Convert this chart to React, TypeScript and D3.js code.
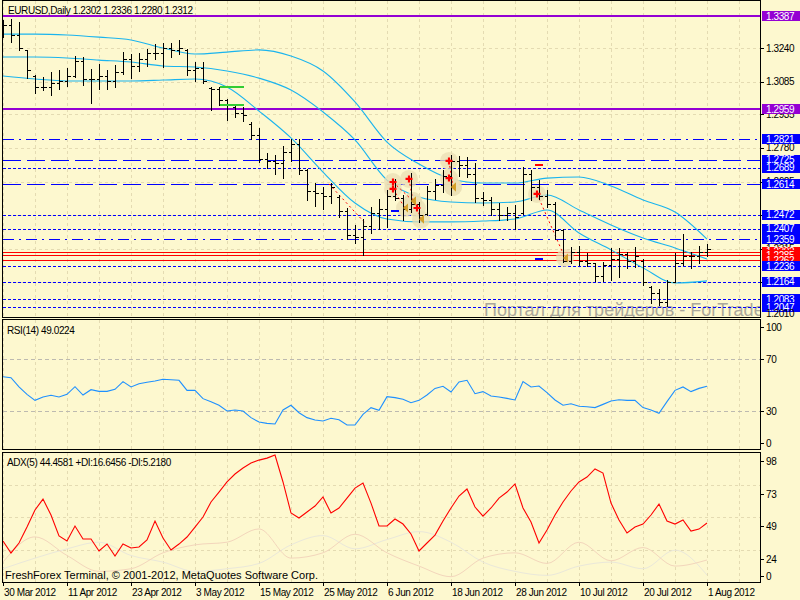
import React from "react";
import * as d3 from "d3";

// ---------- data ----------
const highs = [
  1.3370, 1.3374, 1.3361, 1.3232, 1.3116, 1.3107, 1.3130, 1.3139, 1.3149, 1.3204,
  1.3199, 1.3144, 1.3167, 1.3139, 1.3162, 1.3222, 1.3213, 1.3218, 1.3236, 1.3259,
  1.3264, 1.3264, 1.3278, 1.3236, 1.3176, 1.3176, 1.3061, 1.3061, 1.3006, 1.2978,
  1.2969, 1.2900, 1.2872, 1.2757, 1.2747, 1.2789, 1.2821, 1.2821, 1.2683, 1.2618,
  1.2600, 1.2618, 1.2563, 1.2503, 1.2425, 1.2452, 1.2508, 1.2545, 1.2586, 1.2637,
  1.2563, 1.2665, 1.2531, 1.2605, 1.2637, 1.2678, 1.2747, 1.2743, 1.2738, 1.2711,
  1.2577, 1.2554, 1.2526, 1.2508, 1.2517, 1.2692, 1.2678, 1.2632, 1.2586, 1.2531,
  1.2406, 1.2323, 1.2328, 1.2296, 1.2250, 1.2254, 1.2319, 1.2319, 1.2300, 1.2323,
  1.2268, 1.2144, 1.2130, 1.2171, 1.2296, 1.2383, 1.2300, 1.2328, 1.2336,
];
const lows = [
  1.3291, 1.3268, 1.3232, 1.3102, 1.3033, 1.3047, 1.3024, 1.3052, 1.3066, 1.3107,
  1.3070, 1.2987, 1.3052, 1.3052, 1.3061, 1.3121, 1.3102, 1.3135, 1.3158, 1.3190,
  1.3153, 1.3199, 1.3213, 1.3116, 1.3089, 1.3079, 1.2955, 1.2978, 1.2909, 1.2923,
  1.2904, 1.2821, 1.2715, 1.2688, 1.2660, 1.2641, 1.2720, 1.2660, 1.2540, 1.2512,
  1.2499, 1.2526, 1.2462, 1.2360, 1.2342, 1.2286, 1.2388, 1.2406, 1.2415, 1.2540,
  1.2448, 1.2485, 1.2439, 1.2471, 1.2545, 1.2577, 1.2563, 1.2651, 1.2646, 1.2531,
  1.2517, 1.2471, 1.2448, 1.2448, 1.2406, 1.2475, 1.2540, 1.2545, 1.2508, 1.2360,
  1.2254, 1.2250, 1.2240, 1.2236, 1.2167, 1.2167, 1.2171, 1.2185, 1.2227, 1.2231,
  1.2148, 1.2065, 1.2056, 1.2051, 1.2162, 1.2240, 1.2227, 1.2250, 1.2280,
];
const opens = [
  1.3320, 1.3345, 1.3300, 1.3232, 1.3110, 1.3060, 1.3060, 1.3080, 1.3090, 1.3110,
  1.3180, 1.3100, 1.3100, 1.3110, 1.3090, 1.3130, 1.3190, 1.3160, 1.3190, 1.3220,
  1.3220, 1.3240, 1.3230, 1.3230, 1.3140, 1.3150, 1.3055, 1.3050, 1.3000, 1.2970,
  1.2940, 1.2890, 1.2840, 1.2730, 1.2720, 1.2710, 1.2760, 1.2800, 1.2680, 1.2580,
  1.2570, 1.2560, 1.2555, 1.2490, 1.2380, 1.2370, 1.2420, 1.2480, 1.2500, 1.2560,
  1.2550, 1.2500, 1.2520, 1.2475, 1.2580, 1.2610, 1.2650, 1.2720, 1.2700, 1.2660,
  1.2550, 1.2540, 1.2500, 1.2470, 1.2480, 1.2480, 1.2660, 1.2600, 1.2560, 1.2520,
  1.2400, 1.2260, 1.2300, 1.2260, 1.2250, 1.2190, 1.2240, 1.2270, 1.2290, 1.2260,
  1.2260, 1.2140, 1.2110, 1.2070, 1.2160, 1.2250, 1.2280, 1.2280, 1.2302,
];
const closes = [
  1.3345, 1.3300, 1.3240, 1.3140, 1.3060, 1.3060, 1.3080, 1.3090, 1.3110, 1.3180,
  1.3100, 1.3100, 1.3110, 1.3090, 1.3130, 1.3190, 1.3160, 1.3190, 1.3220, 1.3220,
  1.3240, 1.3230, 1.3240, 1.3140, 1.3150, 1.3090, 1.3050, 1.3000, 1.2980, 1.2940,
  1.2930, 1.2840, 1.2730, 1.2720, 1.2710, 1.2760, 1.2800, 1.2680, 1.2580, 1.2570,
  1.2560, 1.2600, 1.2490, 1.2380, 1.2370, 1.2420, 1.2480, 1.2500, 1.2560, 1.2550,
  1.2500, 1.2520, 1.2470, 1.2580, 1.2610, 1.2650, 1.2720, 1.2700, 1.2660, 1.2550,
  1.2540, 1.2500, 1.2470, 1.2480, 1.2460, 1.2660, 1.2600, 1.2560, 1.2520, 1.2400,
  1.2260, 1.2300, 1.2260, 1.2250, 1.2190, 1.2240, 1.2270, 1.2290, 1.2260, 1.2280,
  1.2160, 1.2110, 1.2070, 1.2160, 1.2250, 1.2280, 1.2280, 1.2300, 1.2312,
];

// channel lines sampled every 4 bars
const bandIdx = [0, 4, 8, 12, 16, 20, 24, 28, 32, 36, 40, 44, 48, 52, 56, 60, 64, 68, 72, 76, 80, 84, 88];
const bandUpper = [1.3305, 1.3305, 1.3301, 1.3291, 1.3278, 1.3241, 1.3213, 1.3222, 1.3232, 1.3204, 1.3135, 1.2992, 1.2807, 1.2706, 1.2637, 1.2618, 1.2618, 1.2641, 1.2646, 1.2605, 1.2540, 1.2485, 1.2360];
const bandMid = [1.3199, 1.3199, 1.3195, 1.3185, 1.3176, 1.3158, 1.3153, 1.3135, 1.3102, 1.3047, 1.2946, 1.2817, 1.2632, 1.2554, 1.2531, 1.2526, 1.2531, 1.2563, 1.2494, 1.2425, 1.2365, 1.2319, 1.2268];
const bandLower = [1.3112, 1.3098, 1.3089, 1.3089, 1.3089, 1.3093, 1.3098, 1.3061, 1.2950, 1.2826, 1.2669, 1.2526, 1.2452, 1.2439, 1.2439, 1.2443, 1.2452, 1.2494, 1.2388, 1.2310, 1.2227, 1.2157, 1.2167];

const rsi = [
  56.4, 55.6, 48.5, 42.8, 38.2, 40.8, 42.1, 40.8, 42.8, 48.7,
  42.3, 46.4, 45.1, 45.1, 46.7, 52.6, 48.5, 51.0, 52.1, 53.1,
  54.4, 54.0, 53.6, 45.9, 45.9, 39.5, 37.2, 34.4, 30.0, 30.8,
  30.0, 24.9, 21.5, 20.5, 20.0, 30.8, 34.4, 28.7, 24.9, 23.1,
  22.3, 24.4, 23.3, 19.2, 19.2, 27.4, 32.6, 30.5, 41.0, 40.3,
  39.0, 36.4, 38.2, 42.3, 47.4, 49.0, 44.6, 52.3, 53.6, 43.3,
  44.9, 41.5, 40.8, 39.7, 38.5, 52.6, 48.5, 49.2, 44.1, 38.5,
  34.4, 35.6, 33.6, 33.3, 32.6, 35.1, 37.7, 38.7, 38.2, 38.2,
  32.6, 30.8, 28.2, 37.2, 45.9, 48.5, 44.9, 47.4, 49.0,
];
const adx = [
  30.9, 21.9, 29.4, 41.4, 54.3, 62.5, 50.5, 34.7, 30.9, 42.2,
  32.4, 32.4, 23.4, 28.6, 19.6, 28.6, 25.6, 26.4, 31.7, 46.0,
  33.2, 24.1, 28.6, 33.9, 41.4, 49.0, 60.3, 67.8, 75.4, 81.4,
  85.9, 89.7, 91.9, 93.4, 95.7, 75.4, 52.0, 48.2, 52.8, 57.3,
  64.1, 52.0, 55.8, 63.3, 70.8, 74.6, 59.5, 42.2, 42.2, 47.5,
  43.7, 36.2, 23.4, 29.4, 35.4, 46.0, 55.8, 64.8, 70.1, 56.5,
  49.7, 55.8, 63.3, 67.8, 73.9, 55.8, 45.2, 29.4, 39.2, 50.5,
  60.3, 68.6, 75.4, 79.1, 85.2, 82.1, 59.5, 46.7, 36.9, 41.4,
  43.7, 50.5, 58.8, 46.0, 43.7, 46.7, 38.4, 39.9, 44.5,
];
const plusDI = [15, 34, 20, 8, 10, 22, 28, 30, 40, 18, 22, 36, 22, 12, 4, 18, 22, 14, 30, 16, 26, 12, 16.6];
const minusDI = [10, 18, 25, 30, 20, 15, 8, 10, 14, 28, 35, 25, 32, 38, 30, 15, 8, 5, 12, 15, 10, 24, 5.2];

const levelPrices = [1.3387, 1.2959, 1.2821, 1.2725, 1.2689, 1.2614, 1.2472, 1.2407, 1.2359, 1.2302, 1.2285, 1.2262, 1.2236, 1.2164, 1.2083, 1.2047];
const levelKinds = ["purple", "purple", "dashdot", "longdash", "dot", "longdash", "dot", "dot", "dashdot", "red", "red", "red", "dot", "dot", "dot", "dot"];

const priceTicks = [1.3240, 1.3085, 1.2935, 1.2780, 1.2625, 1.2470, 1.2315, 1.2160];
const rsiTicks = [100, 70, 30, 0];
const adxTicks = [98, 73, 49, 24, 0];

const xTickIdx = [0, 8, 16, 24, 32, 40, 48, 56, 64, 72, 80, 88];
const xTickLabels = ["30 Mar 2012", "11 Apr 2012", "23 Apr 2012", "3 May 2012", "15 May 2012", "25 May 2012", "6 Jun 2012", "18 Jun 2012", "28 Jun 2012", "10 Jul 2012", "20 Jul 2012", "1 Aug 2012"];

// trade history (open bar, open price, close bar, close price, show markers)
const tradeOpenIdx = [41, 49, 49, 51, 52, 56, 56, 67];
const tradeOpenPx = [1.2614, 1.2623, 1.2591, 1.2637, 1.2503, 1.2720, 1.2641, 1.2568];
const tradeCloseIdx = [45, 51, 50, 51, 52, 56, 56, 70];
const tradeClosePx = [1.2434, 1.2535, 1.2503, 1.2535, 1.2451, 1.2600, 1.2600, 1.2273];
const tradeMarked = [false, true, true, true, true, true, true, true];

const stopIdx = [49, 67, 67];
const stopPx = [1.2489, 1.2701, 1.2268];
const stopColor = ["#0000FF", "#FF0000", "#0000FF"];

const greenFrom = 27;
const greenTo = 30;
const greenPx = [1.3061, 1.2978];

const FONT = "'Liberation Sans', Arial, sans-serif";
const BG = "#FDF8CF";
const GRID = "#E4DBB2";

export default function App() {
  const xs = d3.scaleLinear().domain([0, 88]).range([3, 707]);
  const yP = d3.scaleLinear().domain([1.2083, 1.3387]).range([299.1, 16.3]);
  const yR = d3.scaleLinear().domain([0, 100]).range([450, 320]);
  const yA = d3.scaleLinear().domain([0, 98]).range([582, 452]);

  const idx = d3.range(highs.length);
  const gridX = d3.range(0, 93, 4).map((i) => Math.round(xs(i)) + 0.5);

  const bandPath = (vals: number[]) =>
    d3.line<number>().x((_, k) => xs(bandIdx[k])).y((v) => yP(v)).curve(d3.curveMonotoneX)(vals) || "";
  const rsiPath = d3.line<number>().x((_, i) => xs(i)).y((v) => yR(v))(rsi) || "";
  const adxPath = d3.line<number>().x((_, i) => xs(i)).y((v) => yA(v))(adx) || "";
  const diPath = (vals: number[]) =>
    d3.line<number>().x((_, k) => xs(bandIdx[k])).y((v) => yA(v)).curve(d3.curveMonotoneX)(vals) || "";

  const dashFor = (k: string) =>
    k === "dashdot" ? "11,5,2,5" : k === "longdash" ? "18,6" : k === "dot" ? "3,2" : undefined;
  const colorFor = (k: string) => (k === "purple" ? "#9400D3" : k === "red" ? "#FF0000" : "#0000FF");
  const crisp = (v: number) => Math.round(v) + 0.5;

  const txt = { fontFamily: FONT, fontSize: 10, letterSpacing: -0.4 } as const;

  return (
    <svg
      width={800}
      height={600}
      style={{ position: "absolute", left: 0, top: 0, display: "block", background: BG }}
    >
      <defs>
        <clipPath id="mainClip">
          <rect x={3} y={1} width={757} height={316} />
        </clipPath>
        <clipPath id="rsiClip">
          <rect x={3} y={320} width={757} height={130} />
        </clipPath>
        <clipPath id="adxClip">
          <rect x={3} y={453} width={757} height={129} />
        </clipPath>
      </defs>
      <rect x={0} y={0} width={800} height={600} fill={BG} />

      {/* ---------- MAIN PANEL ---------- */}
      <g clipPath="url(#mainClip)">
        {gridX.map((gx, k) => (
          <line key={"gx" + k} x1={gx} x2={gx} y1={1} y2={317} stroke={GRID} strokeDasharray="3,3" />
        ))}
        {priceTicks.map((p, k) => (
          <line key={"gy" + k} x1={3} x2={760} y1={crisp(yP(p))} y2={crisp(yP(p))} stroke={GRID} strokeDasharray="3,3" />
        ))}
        <text x={484} y={316} fontFamily={FONT} fontSize={18} fill="#ABA89C">
          Портал для трейдеров - ForTrader.ru
        </text>
        {levelPrices.map((p, k) => (
          <line
            key={"lv" + k}
            x1={3}
            x2={760}
            y1={levelKinds[k] === "purple" ? Math.round(yP(p)) : crisp(yP(p))}
            y2={levelKinds[k] === "purple" ? Math.round(yP(p)) : crisp(yP(p))}
            stroke={colorFor(levelKinds[k])}
            strokeWidth={levelKinds[k] === "purple" ? 2 : 1}
            strokeDasharray={dashFor(levelKinds[k])}
            shapeRendering="crispEdges"
          />
        ))}
        {[bandUpper, bandMid, bandLower].map((b, k) => (
          <path key={"bd" + k} d={bandPath(b)} fill="none" stroke="#1AB4EE" strokeWidth={1.1} />
        ))}

        {/* trade history */}
        {tradeOpenIdx.map((oi, k) =>
          tradeMarked[k] ? (
            <g key={"halo" + k}>
              <circle cx={xs(oi) - 2} cy={yP(tradeOpenPx[k])} r={9} fill="#E9DFB4" opacity={0.75} />
              <circle cx={xs(tradeCloseIdx[k]) + 2} cy={yP(tradeClosePx[k])} r={9} fill="#E9DFB4" opacity={0.75} />
            </g>
          ) : null
        )}
        {tradeOpenIdx.map((oi, k) => (
          <line
            key={"tl" + k}
            x1={xs(oi) - 2}
            y1={yP(tradeOpenPx[k])}
            x2={xs(tradeCloseIdx[k]) + 2}
            y2={yP(tradeClosePx[k])}
            stroke="#FF0000"
            strokeDasharray="2,3"
          />
        ))}
        {stopIdx.map((si, k) => (
          <line
            key={"st" + k}
            x1={xs(si) - 4}
            x2={xs(si) + 4}
            y1={Math.round(yP(stopPx[k]))}
            y2={Math.round(yP(stopPx[k]))}
            stroke={stopColor[k]}
            strokeWidth={2}
          />
        ))}

        {/* bars */}
        <g shapeRendering="crispEdges" stroke="#000">
          {idx.map((i) => {
            const bx = crisp(xs(i));
            return (
              <g key={"b" + i}>
                <line x1={bx} x2={bx} y1={Math.round(yP(highs[i]))} y2={Math.round(yP(lows[i])) + 1} />
                <line x1={bx - 3} x2={bx} y1={crisp(yP(opens[i]))} y2={crisp(yP(opens[i]))} />
                <line x1={bx} x2={bx + 3.5} y1={crisp(yP(closes[i]))} y2={crisp(yP(closes[i]))} />
              </g>
            );
          })}
        </g>

        {tradeOpenIdx.map((oi, k) => {
          if (!tradeMarked[k]) return null;
          const ox = xs(oi) - 2;
          const oy = yP(tradeOpenPx[k]);
          const cx = xs(tradeCloseIdx[k]) + 2;
          const cy = yP(tradeClosePx[k]);
          return (
            <g key={"mk" + k}>
              <path d={`M${ox - 3.5},${oy} H${ox + 3.5} M${ox},${oy - 3.5} V${oy + 3.5}`} stroke="#FF0000" strokeWidth={2.2} />
              <path d={`M${cx + 3},${cy - 4.5} L${cx - 2},${cy} L${cx + 3},${cy + 4.5} Z`} fill="#D4A02A" />
            </g>
          );
        })}

        {greenPx.map((p, k) => (
          <line
            key={"gr" + k}
            x1={xs(greenFrom) + 1}
            x2={xs(greenTo) + 1}
            y1={Math.round(yP(p))}
            y2={Math.round(yP(p))}
            stroke="#33CC33"
            strokeWidth={2}
          />
        ))}
      </g>
      <text x={8} y={14} {...txt} fontSize={10}>
        EURUSD,Daily  1.2302 1.2336 1.2280 1.2312
      </text>

      {/* ---------- RSI PANEL ---------- */}
      <g clipPath="url(#rsiClip)">
        {gridX.map((gx, k) => (
          <line key={"rgx" + k} x1={gx} x2={gx} y1={320} y2={450} stroke={GRID} strokeDasharray="3,3" />
        ))}
        {[70, 30].map((v) => (
          <line key={"rl" + v} x1={3} x2={760} y1={crisp(yR(v))} y2={crisp(yR(v))} stroke="#BDBAB0" strokeDasharray="4,3" />
        ))}
        <path d={rsiPath} fill="none" stroke="#1E90FF" strokeWidth={1.1} />
      </g>
      <text x={7} y={334} {...txt}>
        RSI(14) 49.0224
      </text>

      {/* ---------- ADX PANEL ---------- */}
      <g clipPath="url(#adxClip)">
        {gridX.map((gx, k) => (
          <line key={"agx" + k} x1={gx} x2={gx} y1={453} y2={582} stroke={GRID} strokeDasharray="3,3" />
        ))}
        {[73, 49, 24].map((v) => (
          <line key={"agy" + v} x1={3} x2={760} y1={crisp(yA(v))} y2={crisp(yA(v))} stroke={GRID} strokeDasharray="3,3" />
        ))}
        <path d={diPath(minusDI)} fill="none" stroke="#EAE8DA" strokeWidth={1} />
        <path d={diPath(plusDI)} fill="none" stroke="#F3D6BC" strokeWidth={1} />
        <path d={adxPath} fill="none" stroke="#FF0000" strokeWidth={1.1} />
      </g>
      <text x={7} y={466} {...txt}>
        ADX(5) 44.4581 +DI:16.6456 -DI:5.2180
      </text>
      <text x={5} y={579} fontFamily={FONT} fontSize={11}>
        FreshForex Terminal, © 2001-2012, MetaQuotes Software Corp.
      </text>

      {/* ---------- BORDERS ---------- */}
      <g fill="none" stroke="#000" shapeRendering="crispEdges">
        <rect x={2.5} y={0.5} width={758} height={316.5} />
        <rect x={2.5} y={319.5} width={758} height={130} />
        <rect x={2.5} y={452.5} width={758} height={129.5} />
      </g>

      {/* ---------- RIGHT AXES ---------- */}
      <g shapeRendering="crispEdges" stroke="#000">
        {priceTicks.map((p, k) => (
          <line key={"pt" + k} x1={760} x2={764} y1={crisp(yP(p))} y2={crisp(yP(p))} />
        ))}
        {rsiTicks.map((v, k) => {
          const ty = Math.max(327, Math.min(443, yR(v)));
          return <line key={"rt" + k} x1={760} x2={764} y1={crisp(ty)} y2={crisp(ty)} />;
        })}
        {adxTicks.map((v, k) => {
          const ty = Math.max(459, Math.min(576, yA(v) + 9));
          return <line key={"at" + k} x1={760} x2={764} y1={crisp(ty)} y2={crisp(ty)} />;
        })}
        {xTickIdx.map((i, k) => (
          <line key={"xt" + k} x1={crisp(xs(i))} x2={crisp(xs(i))} y1={582} y2={586} />
        ))}
      </g>
      {priceTicks.map((p, k) => (
        <text key={"ptl" + k} x={766} y={yP(p)} dy="0.35em" {...txt}>
          {p.toFixed(4)}
        </text>
      ))}
      {rsiTicks.map((v, k) => (
        <text key={"rtl" + k} x={766} y={Math.max(327, Math.min(443, yR(v)))} dy="0.35em" {...txt}>
          {v}
        </text>
      ))}
      {adxTicks.map((v, k) => (
        <text key={"atl" + k} x={766} y={Math.max(459, Math.min(576, yA(v) + 9))} dy="0.35em" {...txt}>
          {v}
        </text>
      ))}
      {levelPrices.map((p, k) => {
        const ly = yP(p);
        return (
          <g key={"lb" + k}>
            <rect x={762} y={Math.round(ly) - 5} width={38} height={10} fill={colorFor(levelKinds[k])} />
            <text x={766} y={ly} dy="0.36em" {...txt} fill="#FFFFFF">
              {p.toFixed(4)}
            </text>
          </g>
        );
      })}
      <text x={766} y={313} dy="0.35em" {...txt}>
        1.2010
      </text>
      {xTickIdx.map((i, k) => (
        <text key={"xl" + k} x={xs(i) + 1} y={596} {...txt}>
          {xTickLabels[k]}
        </text>
      ))}
    </svg>
  );
}
